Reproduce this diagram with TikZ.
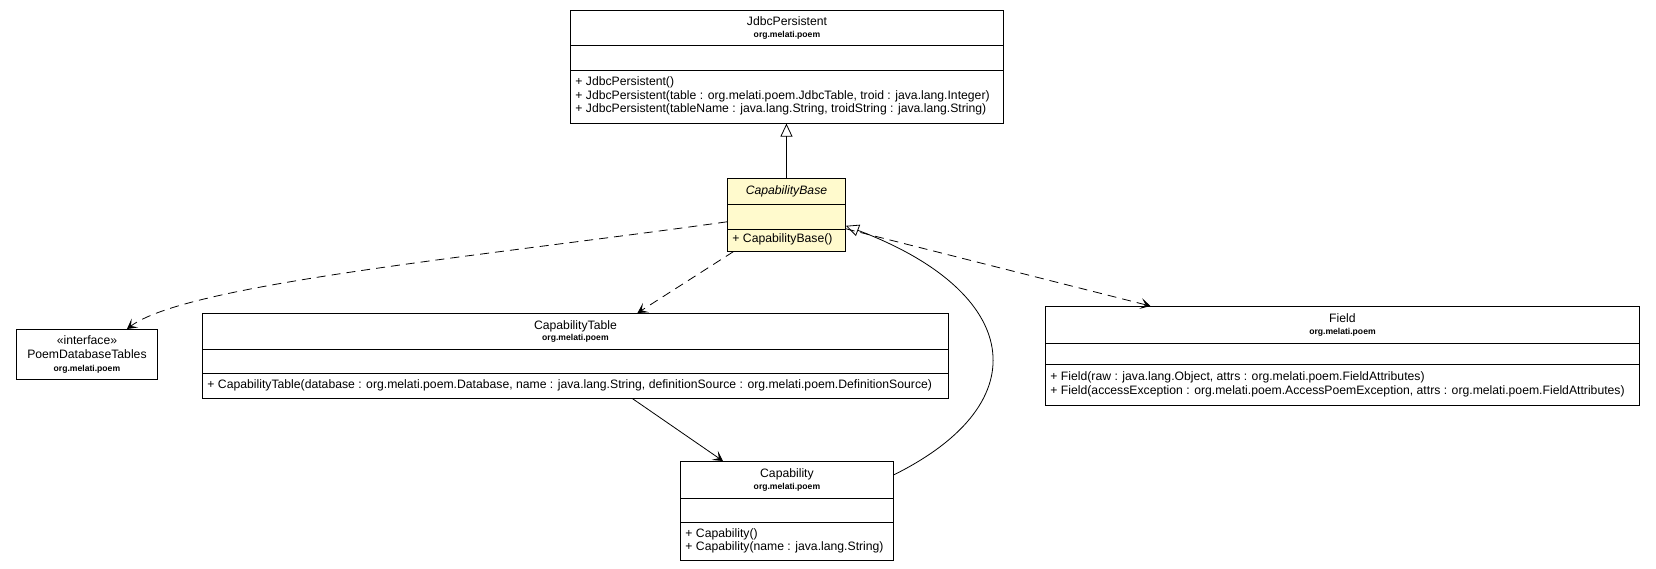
\documentclass[tikz,border=0pt]{standalone}
\usepackage{fontspec}
\setmainfont{Liberation Sans}
\usetikzlibrary{shapes.multipart,arrows.meta}

\definecolor{baseyellow}{RGB}{255,250,205}
\newcommand{\namefont}{\fontsize{12.2}{13.5}\selectfont}
\newcommand{\pkgfont}{\fontsize{8.6}{10}\selectfont\bfseries}
\newcommand{\clshead}[3]{\parbox[c][#2pt][c]{#1pt}{\centering\namefont #3\\[1.5pt]\pkgfont org.melati.poem}}
\newcommand{\clsbody}[3]{\parbox[c][#2pt][c]{#1pt}{\namefont\begin{tabular}{@{\hspace{5pt}}l@{}}#3\end{tabular}}}

\tikzset{
  umlclass/.style={draw, line width=.9pt, rectangle split, rectangle split parts=3,
    inner sep=0pt, anchor=north west, fill=white},
  baseclass/.style={umlclass, fill=baseyellow},
  depend/.style={line width=.8pt, dash pattern=on 9pt off 6pt,
    -{Stealth[length=10pt,width=11pt,inset=5pt]}},
  assoc/.style={line width=.8pt, -{Stealth[length=10pt,width=11pt,inset=5pt]}},
  inherit/.style={line width=.8pt, -{Triangle[open,length=13pt,width=12pt]}}
}

\begin{document}
\begin{tikzpicture}[x=1pt,y=-1pt]
  \useasboundingbox (0,0) rectangle (1656,568);

  \node[umlclass] (jdbc) at (570,10) {\clshead{433}{34}{JdbcPersistent}
    \nodepart{two}\rule{0pt}{24pt}
    \nodepart{three}\clsbody{433}{52}{+ JdbcPersistent()\\
      + JdbcPersistent(table : org.melati.poem.JdbcTable, troid : java.lang.Integer)\\
      + JdbcPersistent(tableName : java.lang.String, troidString : java.lang.String)}};

  \node[baseclass] (base) at (727,178) {\parbox[c][25pt][c]{118pt}{\centering\namefont\itshape CapabilityBase}
    \nodepart{two}\rule{0pt}{24pt}
    \nodepart{three}\clsbody{118}{21}{+ CapabilityBase()}};

  \node[draw, line width=.9pt, anchor=north west, minimum width=141pt, minimum height=50pt,
    inner sep=0pt, align=center, font=\namefont] (tables) at (16,329)
    {«interface»\\[1pt] PoemDatabaseTables\\[-1pt] \pkgfont org.melati.poem};

  \node[umlclass] (table) at (202,313) {\clshead{746}{35}{CapabilityTable}
    \nodepart{two}\rule{0pt}{23pt}
    \nodepart{three}\clsbody{746}{24}{+ CapabilityTable(database : org.melati.poem.Database, name : java.lang.String, definitionSource : org.melati.poem.DefinitionSource)}};

  \node[umlclass] (field) at (1045,306) {\clshead{594}{36}{Field}
    \nodepart{two}\rule{0pt}{20pt}
    \nodepart{three}\clsbody{594}{40}{+ Field(raw : java.lang.Object, attrs : org.melati.poem.FieldAttributes)\\
      + Field(accessException : org.melati.poem.AccessPoemException, attrs : org.melati.poem.FieldAttributes)}};

  \node[umlclass] (cap) at (680,461) {\clshead{213}{36}{Capability}
    \nodepart{two}\rule{0pt}{23pt}
    \nodepart{three}\clsbody{213}{37}{+ Capability()\\ + Capability(name : java.lang.String)}};

  \draw[inherit] (base.north) -- (base.north |- jdbc.south);
  \draw[depend] ([yshift=-7pt]base.west) .. controls +(-250,35) and +(60,-45) .. ([xshift=40pt]tables.north);
  \draw[depend] ([xshift=-53pt]base.south) -- ([xshift=62pt]table.north);
  \draw[depend] ([yshift=-14pt]base.east) -- ([xshift=-192pt]field.north);
  \draw[assoc] ([xshift=57pt]table.south) -- ([xshift=-64pt]cap.north);
  \draw[inherit] ([yshift=36pt]cap.east) .. controls +(147,-73) and +(175,66) .. ([yshift=-11pt]base.east);
\end{tikzpicture}
\end{document}
